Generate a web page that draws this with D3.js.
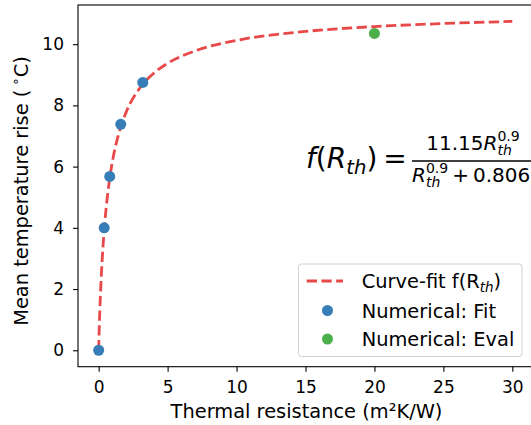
<!DOCTYPE html>
<html>
<head>
<meta charset="utf-8">
<script src="https://cdn.jsdelivr.net/npm/d3@7"></script>
<style>
  body { margin: 0; background: #fff; }
  svg { display: block; font-family: 'DejaVu Sans', sans-serif; }
</style>
</head>
<body>
<svg id="chart" width="531" height="425"></svg>
<script>
// numerical points used for the fit
const fitR = [0, 0.4, 0.8, 1.6, 3.2]
const fitT = [0, 4.0, 5.68, 7.38, 8.75]
// numerical point used for evaluation
const evalR = [20]
const evalT = [10.35]
// curve-fit f(R) = 11.15 R^0.9 / (R^0.9 + 0.806), sampled
const curveR = [0, 0.005, 0.01, 0.02, 0.05, 0.1, 0.2, 0.3, 0.5, 0.75, 1, 1.5, 2, 3, 4, 5, 7, 10, 15, 20, 25, 30]
const curveT = [0, 0.116, 0.215, 0.395, 0.862, 1.506, 2.516, 3.297, 4.453, 5.454, 6.174, 7.149, 7.787, 8.578, 9.054, 9.375, 9.782, 10.123, 10.416, 10.575, 10.675, 10.744]
const xTicks = [0, 5, 10, 15, 20, 25, 30]
const yTicks = [0, 2, 4, 6, 8, 10]

const red = '#e41a1c'
const blue = '#377eb8'
const green = '#4daf4a'

const svg = d3.select('#chart')
const mLeft = 78, mRight = 533, mTop = 5, mBottom = 366.7

const x = d3.scaleLinear().domain([-1.5, 31.5]).range([mLeft, mRight])
const y = d3.scaleLinear().domain([-0.537, 11.28]).range([mBottom, mTop])

// --------------------------------------------------------------
// Axes
const xAxis = svg.append('g')
  .attr('transform', `translate(0,${mBottom})`)
  .call(d3.axisBottom(x).tickValues(xTicks).tickSize(5).tickPadding(9.5))
const yAxis = svg.append('g')
  .attr('transform', `translate(${mLeft},0)`)
  .call(d3.axisLeft(y).tickValues(yTicks).tickSize(5).tickPadding(9))

for (const ax of [xAxis, yAxis]) {
  ax.select('.domain').remove()
  ax.selectAll('line').attr('stroke', '#000').attr('stroke-width', 1.1)
  ax.selectAll('text').attr('font-size', 17).attr('fill', '#000')
    .attr('font-family', 'DejaVu Sans')
}

// spines (right one falls outside the picture)
svg.append('rect')
  .attr('x', mLeft).attr('y', mTop)
  .attr('width', mRight - mLeft).attr('height', mBottom - mTop)
  .attr('fill', 'none').attr('stroke', '#000').attr('stroke-width', 1.1)

// --------------------------------------------------------------
// Curve
const line = d3.line()
  .x((d, i) => x(curveR[i]))
  .y((d, i) => y(curveT[i]))
  .curve(d3.curveMonotoneX)

svg.append('path')
  .attr('d', line(curveR))
  .attr('fill', 'none')
  .attr('stroke', red)
  .attr('stroke-opacity', 0.8)
  .attr('stroke-width', 2.8)
  .attr('stroke-dasharray', '10.3 4.4')

// --------------------------------------------------------------
// Dots
svg.append('g').selectAll('circle')
  .data(fitR)
  .join('circle')
  .attr('cx', (d) => x(d))
  .attr('cy', (d, i) => y(fitT[i]))
  .attr('r', 5.5)
  .attr('fill', blue)

svg.append('g').selectAll('circle')
  .data(evalR)
  .join('circle')
  .attr('cx', (d) => x(d))
  .attr('cy', (d, i) => y(evalT[i]))
  .attr('r', 5.5)
  .attr('fill', green)

// --------------------------------------------------------------
// Axis labels
svg.append('text')
  .attr('x', 306.5).attr('y', 418)
  .attr('text-anchor', 'middle')
  .attr('font-size', 19.4)
  .text('Thermal resistance (m\u00b2K/W)')

const yl = svg.append('text')
  .attr('transform', 'translate(27.5,191) rotate(-90)')
  .attr('text-anchor', 'middle')
  .attr('font-size', 19.4)
yl.append('tspan').text('Mean temperature rise (\u2009')
yl.append('tspan').attr('font-size', 13.5).attr('dy', -8).text('\u2218')
yl.append('tspan').attr('dy', 8).text('C)')

// --------------------------------------------------------------
// Formula: pieces laid out one after another, measured as we go
function piece(g, px, py, str, size, italic) {
  const t = g.append('text')
    .attr('x', px).attr('y', py)
    .attr('font-size', size)
    .attr('font-style', italic ? 'italic' : 'normal')
    .text(str)
  return t.node().getComputedTextLength()
}

function mathRow(g, x0, y0, parts) {
  let cx = x0
  parts.forEach((p) => {
    if (p.sub) {
      // superscript and subscript stacked at the same x
      const w1 = p.sup ? piece(g, cx, y0 - p.up, p.sup, p.small, false) : 0
      const w2 = piece(g, cx, y0 + p.down, p.sub, p.small, true)
      cx += Math.max(w1, w2)
    } else {
      cx += piece(g, cx, y0, p.t, p.size, p.italic) + (p.gap || 0)
    }
  })
  return cx - x0
}

const formula = svg.append('g')
const mainRow = formula.append('g')
mathRow(mainRow, 306, 168, [
  { t: 'f', size: 28, italic: true },
  { t: '(', size: 28 },
  { t: 'R', size: 28, italic: true },
  { sub: 'th', small: 19.6, down: 6 },
  { t: ')', size: 28, gap: 6 },
  { t: '=', size: 28 },
])

const barX1 = 412, barX2 = 534
formula.append('line')
  .attr('x1', barX1).attr('x2', barX2)
  .attr('y1', 161).attr('y2', 161)
  .attr('stroke', '#000').attr('stroke-width', 1.4)

const numRow = formula.append('g')
const numW = mathRow(numRow, 0, 150, [
  { t: '11.15', size: 20 },
  { t: 'R', size: 20, italic: true },
  { sup: '0.9', sub: 'th', small: 14, up: 9, down: 5 },
])
numRow.attr('transform', `translate(${(barX1 + barX2) / 2 - numW / 2},0)`)

const denRow = formula.append('g')
mathRow(denRow, 412, 181.5, [
  { t: 'R', size: 20, italic: true },
  { sup: '0.9', sub: 'th', small: 14, up: 9, down: 5 },
  { t: '\u2009+\u20090.806', size: 20 },
])

// --------------------------------------------------------------
// Legend
const lg = svg.append('g')
lg.append('rect')
  .attr('x', 298.5).attr('y', 264)
  .attr('width', 223.5).attr('height', 92.5)
  .attr('rx', 3)
  .attr('fill', '#fff').attr('fill-opacity', 0.8)
  .attr('stroke', '#d0d0d0').attr('stroke-width', 1)

const rows = [281, 310.5, 339]
lg.append('line')
  .attr('x1', 306.7).attr('x2', 343)
  .attr('y1', rows[0]).attr('y2', rows[0])
  .attr('stroke', red).attr('stroke-opacity', 0.8)
  .attr('stroke-width', 2.8).attr('stroke-dasharray', '10.3 4.4')
lg.append('circle').attr('cx', 327.5).attr('cy', rows[1]).attr('r', 5.5).attr('fill', blue)
lg.append('circle').attr('cx', 327.5).attr('cy', rows[2]).attr('r', 5.5).attr('fill', green)

const t1 = lg.append('text').attr('x', 361.7).attr('y', rows[0] + 7).attr('font-size', 19.4)
t1.append('tspan').text('Curve-fit f(R')
t1.append('tspan').attr('font-style', 'italic').attr('font-size', 13.5).attr('dy', 4).text('th')
t1.append('tspan').attr('dy', -4).text(')')
lg.append('text').attr('x', 361.7).attr('y', rows[1] + 7).attr('font-size', 19.4).text('Numerical: Fit')
lg.append('text').attr('x', 361.7).attr('y', rows[2] + 7).attr('font-size', 19.4).text('Numerical: Eval')
</script>
</body>
</html>
